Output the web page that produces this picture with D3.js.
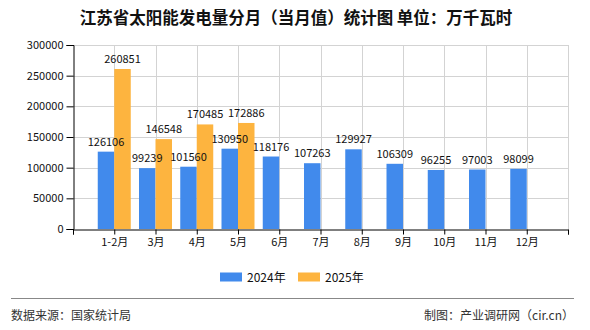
<!DOCTYPE html>
<html>
<head>
<meta charset="utf-8">
<script src="https://cdn.jsdelivr.net/npm/d3@7"></script>
<style>
  html, body { margin: 0; padding: 0; background: #fff; }
  svg { display: block; }
  text { font-family: "Noto Sans CJK SC", "Noto Sans", sans-serif; }
</style>
</head>
<body>
<svg id="chart" width="590" height="330"></svg>
<script>
const categories = ["1-2月", "3月", "4月", "5月", "6月", "7月", "8月", "9月", "10月", "11月", "12月"];
const values2024 = [126106, 99239, 101560, 130950, 118176, 107263, 129927, 106309, 96255, 97003, 98099];
const values2025 = [260851, 146548, 170485, 172886];
const seriesNames = ["2024年", "2025年"];
const yTicks = [0, 50000, 100000, 150000, 200000, 250000, 300000];
const titleText = "江苏省太阳能发电量分月（当月值）统计图 单位：万千瓦时";
const sourceText = "数据来源：国家统计局";
const creditText = "制图：产业调研网（cir.cn）";

(function () {
const colors = ["#418AEC", "#FDB43F"];
const svg = d3.select("#chart");

const pL = 73, pR = 568, pT = 45, pB = 229;
const x = d3.scaleLinear().domain([0, categories.length + 1]).range([pL, pR]);
const y = d3.scaleLinear().domain([0, 300000]).range([pB, pT]);
const bw = 16.5;

// Title
svg.append("text").attr("x", 296).attr("y", 24).attr("text-anchor", "middle")
  .attr("font-size", 16.5).attr("font-weight", "bold").attr("fill", "#111").text(titleText);

// Grid horizontal
svg.append("g").selectAll("line").data(yTicks.filter(d => d > 0)).join("line")
  .attr("x1", pL).attr("x2", pR).attr("y1", d => Math.round(y(d)) + 0.5).attr("y2", d => Math.round(y(d)) + 0.5)
  .attr("stroke", "#d3d3d3").attr("stroke-width", 1);
// Grid vertical
const vIdx = d3.range(1, categories.length + 2);
svg.append("g").selectAll("line").data(vIdx).join("line")
  .attr("x1", d => Math.round(x(d)) + 0.5).attr("x2", d => Math.round(x(d)) + 0.5)
  .attr("y1", pT).attr("y2", pB)
  .attr("stroke", "#d3d3d3").attr("stroke-width", 1);

// Bars
const g = svg.append("g");
g.selectAll("rect.s0").data(values2024).join("rect").attr("class", "s0")
  .attr("x", (d, i) => x(i + 1) - bw).attr("width", bw)
  .attr("y", d => y(d)).attr("height", d => pB - y(d)).attr("fill", colors[0]);
g.selectAll("rect.s1").data(values2025).join("rect").attr("class", "s1")
  .attr("x", (d, i) => x(i + 1)).attr("width", bw)
  .attr("y", d => y(d)).attr("height", d => pB - y(d)).attr("fill", colors[1]);

// Labels
g.selectAll("text.l0").data(values2024).join("text").attr("class", "l0")
  .attr("x", (d, i) => x(i + 1) - bw / 2).attr("y", d => y(d) - 6)
  .attr("text-anchor", "middle").attr("font-size", 11).attr("fill", "#111").text(d => d);
g.selectAll("text.l1").data(values2025).join("text").attr("class", "l1")
  .attr("x", (d, i) => x(i + 1) + bw / 2).attr("y", d => y(d) - 6)
  .attr("text-anchor", "middle").attr("font-size", 11).attr("fill", "#111").text(d => d);

// Y axis
const yAxis = d3.axisLeft(y).tickValues(yTicks).tickSize(7).tickPadding(3).tickFormat(d3.format("d"));
const ya = svg.append("g").attr("transform", `translate(${pL + 0.5},0)`).call(yAxis);
ya.select(".domain").attr("stroke", "#000");
ya.selectAll(".tick line").attr("stroke", "#000");
ya.selectAll(".tick text").attr("font-size", 11).attr("fill", "#111")
  .style("font-family", "'Noto Sans CJK SC', sans-serif");

// X axis
const xAxis = d3.axisBottom(x).tickValues(d3.range(0, categories.length + 2)).tickSize(5).tickPadding(4)
  .tickFormat(d => (d >= 1 && d <= categories.length) ? categories[d - 1] : "");
const xa = svg.append("g").attr("transform", `translate(0,${pB + 0.5})`).call(xAxis);
xa.select(".domain").attr("stroke", "#000");
xa.selectAll(".tick line").attr("stroke", "#000");
xa.selectAll(".tick text").attr("font-size", 11).attr("fill", "#111")
  .style("font-family", "'Noto Sans CJK SC', sans-serif");

// Legend
const legX = [220, 298];
seriesNames.forEach((n, i) => {
  svg.append("rect").attr("x", legX[i]).attr("y", 272.5).attr("width", 22).attr("height", 9).attr("fill", colors[i]);
  svg.append("text").attr("x", legX[i] + 27).attr("y", 281.5).attr("font-size", 12).attr("fill", "#111").text(n);
});

// Footer
svg.append("line").attr("x1", 11).attr("x2", 574).attr("y1", 298.5).attr("y2", 298.5).attr("stroke", "#888").attr("stroke-width", 1);
svg.append("text").attr("x", 11).attr("y", 320).attr("font-size", 12).attr("fill", "#333").text(sourceText);
svg.append("text").attr("x", 574).attr("y", 320).attr("text-anchor", "end").attr("font-size", 12).attr("fill", "#333").text(creditText);
})();
</script>
</body>
</html>
